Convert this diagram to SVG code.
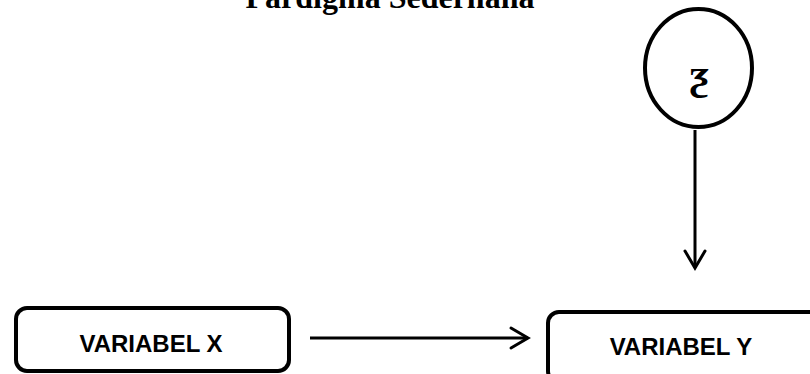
<svg xmlns="http://www.w3.org/2000/svg" width="810" height="374" viewBox="0 0 810 374">
<defs>
<style>
.box{fill:#fff;stroke:#000;stroke-width:4}
.lbl{font-family:"Liberation Sans",Arial,sans-serif;font-weight:bold;font-size:24px;fill:#000;text-anchor:middle}
.con{stroke:#000;stroke-width:3;fill:none}
.head{stroke:#000;stroke-width:3;fill:none;stroke-linecap:round;stroke-linejoin:miter}
</style>
</defs>
<rect width="810" height="374" fill="#fff"/>
<text x="390" y="8" font-family="'Liberation Serif','Times New Roman',serif" font-weight="bold" font-size="32" text-anchor="middle">Pardigma Sederhana</text>
<g id="node-error">
<ellipse cx="698.5" cy="68" rx="53.5" ry="59" fill="#fff" stroke="#000" stroke-width="4"/>
<text x="699" y="89" font-family="'Liberation Serif','DejaVu Serif','Times New Roman',serif" font-weight="bold" font-size="44" text-anchor="middle">ƺ</text>
</g>
<g id="node-x">
<rect class="box" x="16" y="308" width="273" height="63" rx="11"/>
<text class="lbl" x="151" y="352">VARIABEL X</text>
</g>
<g id="node-y">
<rect class="box" x="548" y="312" width="290" height="70" rx="11"/>
<text class="lbl" x="681" y="355">VARIABEL Y</text>
</g>
<g id="connectors">
<line class="con" x1="695" y1="130" x2="695" y2="268"/>
<polyline class="head" points="685,251 695,268 705,251"/>
<line class="con" x1="310" y1="338" x2="528" y2="338"/>
<polyline class="head" points="511,328 528,338 511,348"/>
</g>
</svg>
